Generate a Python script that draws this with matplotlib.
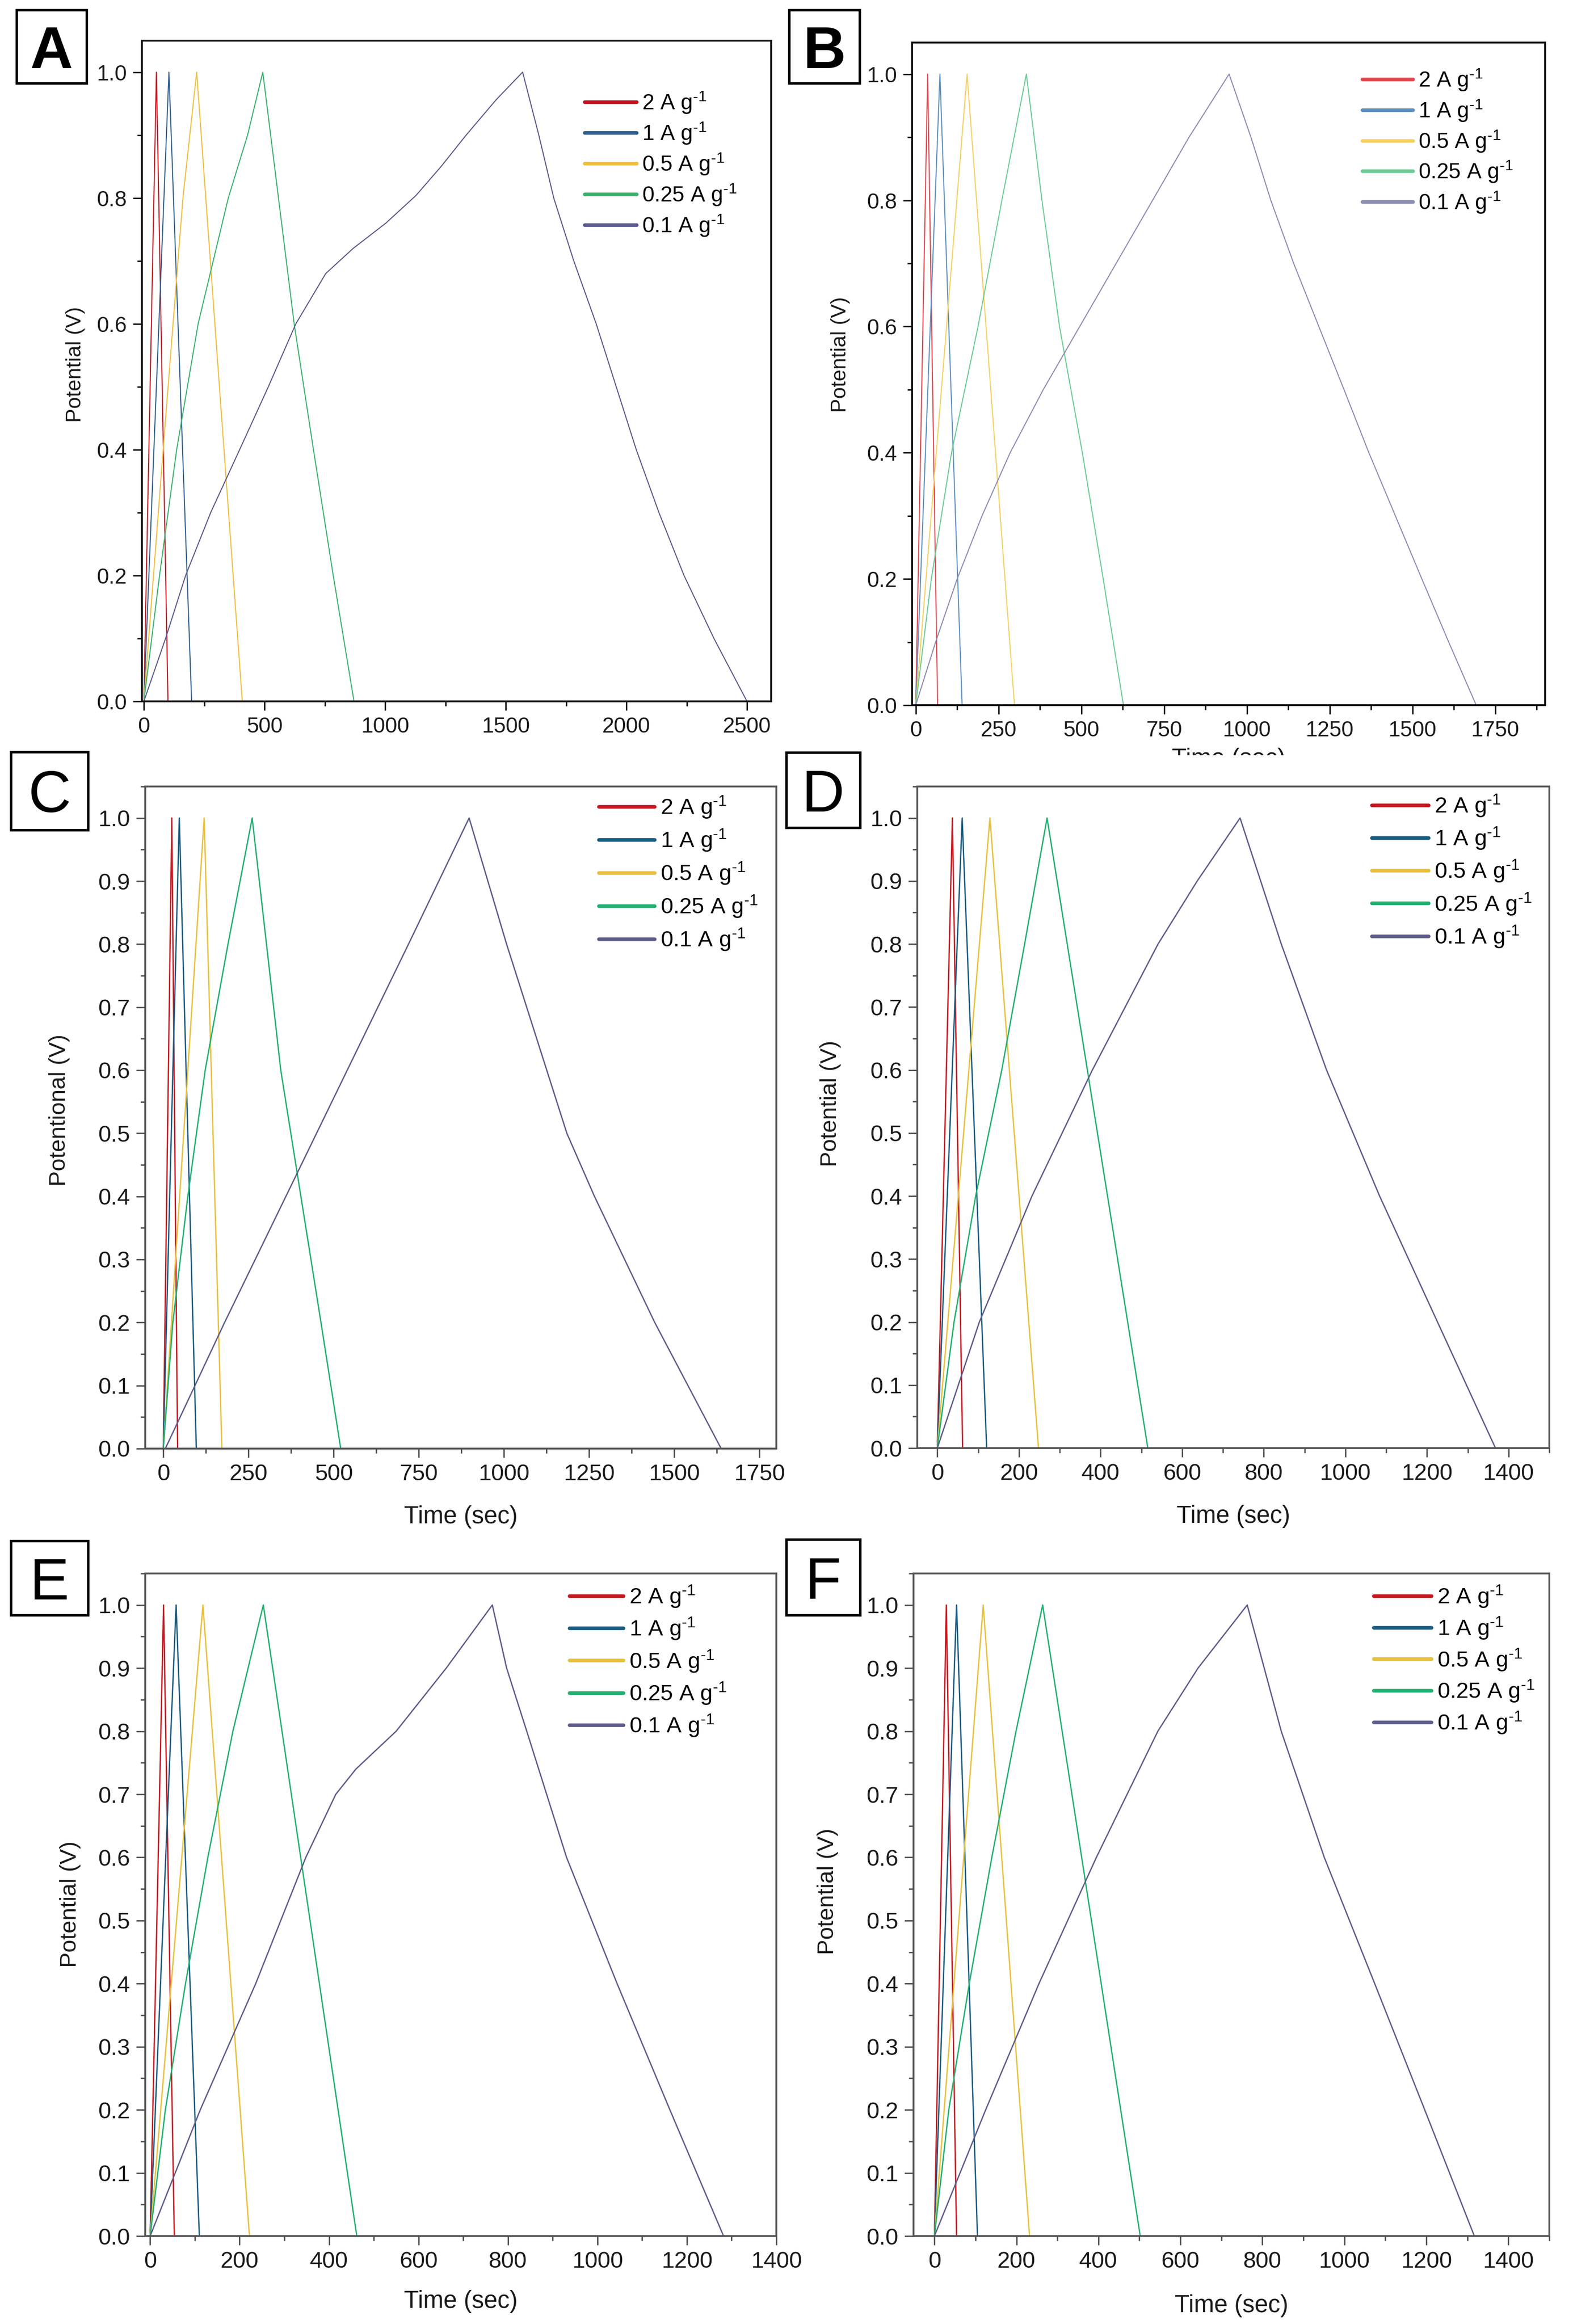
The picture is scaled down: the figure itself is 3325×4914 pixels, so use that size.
import matplotlib
matplotlib.use("Agg")
import matplotlib.pyplot as plt
from matplotlib.lines import Line2D
from matplotlib.patches import Rectangle
from matplotlib.ticker import MultipleLocator, FormatStrFormatter
from matplotlib.transforms import Bbox, TransformedBbox

plt.rcParams['font.family'] = ['Liberation Sans', 'DejaVu Sans']
plt.rcParams['mathtext.fontset'] = 'custom'
plt.rcParams['mathtext.rm'] = 'Liberation Sans'
plt.rcParams['mathtext.default'] = 'regular'

RATES = ['2 A g$^{\u20101}$', '1 A g$^{\u20101}$', '0.5 A g$^{\u20101}$',
         '0.25 A g$^{\u20101}$', '0.1 A g$^{\u20101}$']

# ---- GCD curves: time (s) and potential (V) per current density ----
A_T = [
    [0, 52, 100],
    [0, 104, 198],
    [0, 80, 162, 219, 300, 408],
    [0, 65, 136, 225, 350, 430, 493, 623, 703, 785, 871],
    [0, 90, 173, 277, 397, 516, 630, 754, 868, 1003, 1128, 1232, 1336, 1460, 1570,
     1637, 1699, 1782, 1875, 1958, 2041, 2135, 2239, 2363, 2500],
]
A_V = [
    [0, 1, 0],
    [0, 1, 0],
    [0, 0.4, 0.8, 1.0, 0.57, 0],
    [0, 0.2, 0.4, 0.6, 0.8, 0.9, 1.0, 0.6, 0.4, 0.2, 0],
    [0, 0.1, 0.2, 0.3, 0.4, 0.5, 0.6, 0.68, 0.72, 0.76, 0.804, 0.85, 0.9, 0.956, 1.0,
     0.9, 0.8, 0.7, 0.6, 0.5, 0.4, 0.3, 0.2, 0.1, 0],
]

B_T = [
    [0, 36, 66],
    [0, 73, 140],
    [0, 155, 298],
    [0, 47, 108, 188, 260, 334, 381, 434, 503, 566, 627],
    [0, 60, 125, 200, 285, 385, 495, 605, 715, 825, 946,
     1012, 1072, 1141, 1217, 1293, 1368, 1448, 1528, 1609, 1692],
]
B_V = [
    [0, 1, 0],
    [0, 1, 0],
    [0, 1, 0],
    [0, 0.2, 0.4, 0.6, 0.8, 1.0, 0.8, 0.6, 0.4, 0.2, 0],
    [0, 0.1, 0.2, 0.3, 0.4, 0.5, 0.6, 0.7, 0.8, 0.9, 1.0,
     0.9, 0.8, 0.7, 0.6, 0.5, 0.4, 0.3, 0.2, 0.1, 0],
]

C_T = [
    [0, 25, 42],
    [0, 47, 97],
    [0, 120, 172],
    [0, 28, 72, 123, 190, 261, 345, 404, 463, 521],
    [6, 180, 360, 540, 720, 898, 1008, 1126, 1185, 1266, 1443, 1638],
]
C_V = [
    [0, 1, 0],
    [0, 1, 0],
    [0, 1, 0],
    [0, 0.2, 0.4, 0.6, 0.8, 1.0, 0.6, 0.4, 0.2, 0],
    [0, 0.2, 0.4, 0.6, 0.8, 1.0, 0.8, 0.6, 0.5, 0.4, 0.2, 0],
]

D_T = [
    [0, 37, 62],
    [0, 61, 121],
    [0, 129, 248],
    [0, 41, 94, 158, 214, 269, 516],
    [0, 103, 232, 380, 541, 637, 742, 843, 954, 1084, 1226, 1368],
]
D_V = [
    [0, 1, 0],
    [0, 1, 0],
    [0, 1, 0],
    [0, 0.2, 0.4, 0.6, 0.8, 1.0, 0],
    [0, 0.2, 0.4, 0.6, 0.8, 0.9, 1.0, 0.8, 0.6, 0.4, 0.2, 0],
]

E_T = [
    [0, 30, 54],
    [0, 58, 110],
    [0, 118, 222],
    [0, 34, 79, 129, 185, 253, 462],
    [0, 112, 236, 348, 415, 460, 550, 662, 765, 797, 842, 931, 1044, 1162, 1282],
]
E_V = [
    [0, 1, 0],
    [0, 1, 0],
    [0, 1, 0],
    [0, 0.2, 0.4, 0.6, 0.8, 1.0, 0],
    [0, 0.2, 0.4, 0.6, 0.7, 0.74, 0.8, 0.9, 1.0, 0.9, 0.8, 0.6, 0.4, 0.2, 0],
]

F_T = [
    [0, 29, 54],
    [0, 54, 105],
    [0, 119, 232],
    [0, 35, 85, 140, 199, 264, 502],
    [0, 125, 255, 395, 545, 643, 763, 846, 951, 1074, 1196, 1317],
]
F_V = [
    [0, 1, 0],
    [0, 1, 0],
    [0, 1, 0],
    [0, 0.2, 0.4, 0.6, 0.8, 1.0, 0],
    [0, 0.2, 0.4, 0.6, 0.8, 0.9, 1.0, 0.8, 0.6, 0.4, 0.2, 0],
]

COLORS_A = ['#c3141e', '#2f5e8c', '#f0be3c', '#3db06e', '#5a5a8c']
COLORS_B = ['#e2444c', '#5c8fc0', '#f5d060', '#6ccb94', '#8c8cb4']
COLORS_CF = ['#c8161e', '#185a80', '#e8c03c', '#20b070', '#5e5c8a']

W, H = 3325, 4914
fig = plt.figure(figsize=(W / 100, H / 100), dpi=100)

# layout in image pixels: (left, right, top, bottom)
layout = [
    dict(key='A', T=A_T, V=A_V, colors=COLORS_A, box=(300, 1630, 86, 1483),
         xlim=(-8, 2600), xmaj=500, xmin=250, ymaj=0.2, ymin=0.1,
         ylabel='Potential (V)', ylab=(-0.106, 0.51), xlab=None,
         tick_fs=33, lab_fs=32, spine='#111111', lw=1.6,
         leg=(1236, 219, 67.75, 110), leg_fs=33,
         tag=(35, 183, 21, 176), bold=True),
    dict(key='B', T=B_T, V=B_V, colors=COLORS_B, box=(1928, 3266, 90, 1491),
         xlim=(-11, 1900), xmaj=250, xmin=125, ymaj=0.2, ymin=0.1,
         ylabel='Potential (V)', ylab=(-0.113, 0.529), xlab=-0.082,
         tick_fs=33, lab_fs=32, spine='#111111', lw=1.6,
         leg=(2880, 171, 67.5, 107), leg_fs=33,
         tag=(1668, 1817, 21, 176), bold=True),
    dict(key='C', T=C_T, V=C_V, colors=COLORS_CF, box=(307, 1641, 1663, 3063),
         xlim=(-53, 1800), xmaj=250, xmin=125, ymaj=0.1, ymin=0.05,
         ylabel='Potentional (V)', ylab=(-0.136, 0.511), xlab=-0.103,
         tick_fs=35, lab_fs=35, spine='#555555', lw=2.0,
         leg=(1266, 1709, 73.5, 118), leg_fs=34,
         tag=(23, 186, 1590, 1755), bold=False),
    dict(key='D', T=D_T, V=D_V, colors=COLORS_CF, box=(1939, 3275, 1663, 3062),
         xlim=(-49, 1500), xmaj=200, xmin=100, ymaj=0.1, ymin=0.05,
         ylabel='Potential (V)', ylab=(-0.137, 0.521), xlab=-0.103,
         tick_fs=35, lab_fs=35, spine='#555555', lw=2.0,
         leg=(2900, 1706, 72.7, 120), leg_fs=34,
         tag=(1662, 1818, 1591, 1750), bold=False),
    dict(key='E', T=E_T, V=E_V, colors=COLORS_CF, box=(307, 1641, 3327, 4728),
         xlim=(-11, 1400), xmaj=200, xmin=100, ymaj=0.1, ymin=0.05,
         ylabel='Potential (V)', ylab=(-0.119, 0.501), xlab=-0.099,
         tick_fs=35, lab_fs=35, spine='#555555', lw=2.0,
         leg=(1204, 3378, 71.8, 114), leg_fs=34,
         tag=(23, 186, 3258, 3415), bold=False),
    dict(key='F', T=F_T, V=F_V, colors=COLORS_CF, box=(1931, 3275, 3327, 4728),
         xlim=(-51, 1500), xmaj=200, xmin=100, ymaj=0.1, ymin=0.05,
         ylabel='Potential (V)', ylab=(-0.135, 0.52), xlab=-0.105,
         tick_fs=35, lab_fs=35, spine='#555555', lw=2.0,
         leg=(2904, 3378, 70.3, 122), leg_fs=34,
         tag=(1662, 1818, 3255, 3415), bold=False),
]

for p in layout:
    l, r, t, b = p['box']
    ax = fig.add_axes([l / W, 1 - b / H, (r - l) / W, (b - t) / H])
    for tt, vv, c in zip(p['T'], p['V'], p['colors']):
        ax.plot(tt, vv, color=c, lw=p['lw'], solid_joinstyle='round')

    ax.set_xlim(*p['xlim'])
    ax.set_ylim(0, 1.05)
    ax.xaxis.set_major_locator(MultipleLocator(p['xmaj']))
    ax.xaxis.set_minor_locator(MultipleLocator(p['xmin']))
    ax.yaxis.set_major_locator(MultipleLocator(p['ymaj']))
    ax.yaxis.set_minor_locator(MultipleLocator(p['ymin']))
    ax.yaxis.set_major_formatter(FormatStrFormatter('%.1f'))
    ax.tick_params(which='both', direction='out', top=False, right=False,
                   color=p['spine'], width=2.2)
    ax.tick_params(which='major', length=14, pad=9, labelsize=p['tick_fs'],
                   labelcolor='#1a1a1a')
    ax.tick_params(which='minor', length=7)
    for s in ax.spines.values():
        s.set_linewidth(2.8)
        s.set_color(p['spine'])

    ax.set_ylabel(p['ylabel'], fontsize=p['lab_fs'], color='#1a1a1a')
    ax.yaxis.set_label_coords(*p['ylab'])
    ax.yaxis.label.set_va('center')

    if p['xlab'] is not None:
        ax.set_xlabel('Time (sec)', fontsize=37, color='#1a1a1a')
        ax.xaxis.set_label_coords(0.5, p['xlab'])
        ax.xaxis.label.set_va('center')
        if p['key'] == 'B':
            # the lower row of panels hides most of this label
            clip = TransformedBbox(Bbox([[0, 1 - 1597 / H], [1, 1]]), fig.transFigure)
            ax.xaxis.label.set_clip_box(clip)
            ax.xaxis.label.set_clip_on(True)

    # legend
    lx, ly, pitch, hlen = p['leg']
    fs_px = p['leg_fs'] * 100 / 72
    handles = [Line2D([0], [0], color=c, lw=5.5, solid_capstyle='round') for c in p['colors']]
    ax.legend(handles, RATES, loc='upper left',
              bbox_to_anchor=(lx / W, 1 - (ly - 0.62 * fs_px) / H),
              bbox_transform=fig.transFigure, frameon=False,
              fontsize=p['leg_fs'], handlelength=hlen / fs_px,
              handletextpad=0.25, borderpad=0, borderaxespad=0,
              labelspacing=(pitch - 1.24 * fs_px) / fs_px)

    # panel letter in a square box
    x0, x1, y0, y1 = p['tag']
    fig.add_artist(Rectangle((x0 / W, 1 - y1 / H), (x1 - x0) / W, (y1 - y0) / H,
                             transform=fig.transFigure, fill=False,
                             edgecolor='black', lw=3.8))
    fig.text((x0 + x1) / 2 / W, 1 - ((y0 + y1) / 2 + 45) / H, p['key'],
             fontsize=90, ha='center', va='baseline',
             fontweight='bold' if p['bold'] else 'normal')

fig.savefig('out.png', dpi=100, facecolor='white')
